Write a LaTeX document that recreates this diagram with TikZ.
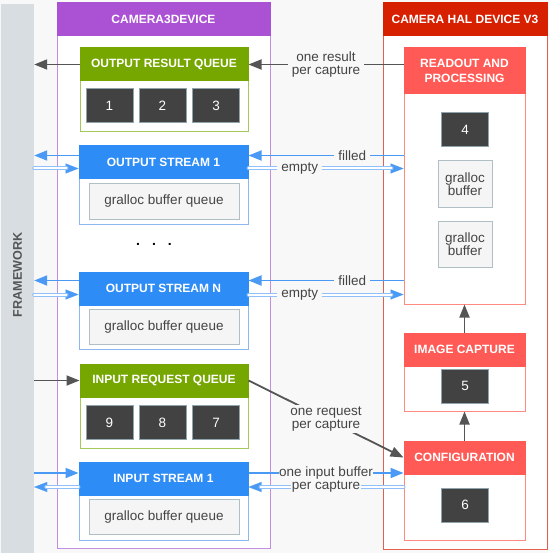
\documentclass[tikz,border=0pt]{standalone}
\usepackage{fontspec}
\setmainfont{Liberation Sans}
\usetikzlibrary{arrows.meta}
\definecolor{bgc}{RGB}{248,248,248}
\definecolor{fwc}{RGB}{215,221,224}
\definecolor{purh}{RGB}{171,82,212}
\definecolor{purl}{RGB}{196,142,224}
\definecolor{halh}{RGB}{214,32,0}
\definecolor{hall}{RGB}{226,96,78}
\definecolor{redh}{RGB}{255,90,85}
\definecolor{redl}{RGB}{255,138,128}
\definecolor{grnh}{RGB}{118,167,0}
\definecolor{grnl}{RGB}{165,200,90}
\definecolor{bluh}{RGB}{45,140,245}
\definecolor{blul}{RGB}{140,184,239}
\definecolor{bluarr}{RGB}{74,154,245}
\definecolor{bludbl}{RGB}{143,192,249}
\definecolor{itemc}{RGB}{66,66,66}
\definecolor{itemb}{RGB}{144,164,174}
\definecolor{galc}{RGB}{245,245,245}
\definecolor{galb}{RGB}{176,190,197}
\definecolor{arrc}{RGB}{85,85,85}
\definecolor{txtc}{RGB}{68,68,68}
\newcommand\hfont{\bfseries\fontsize{12}{15}\selectfont}
\newcommand\nfont{\fontsize{13.5}{13.5}\selectfont}
\begin{document}
\begin{tikzpicture}[x=1pt,y=-1pt,
	box/.style={draw,fill=white,line width=1pt,inner sep=0pt},
	head/.style={draw=#1,fill=#1,line width=1pt,text=white,inner sep=0pt,font=\hfont,align=center},
	item/.style={draw=itemb,fill=itemc,text=white,line width=1pt,minimum width=47pt,minimum height=34pt,inner sep=0pt,font=\nfont},
	gal/.style={draw=galb,fill=galc,text=txtc,line width=1pt,inner sep=0pt,font=\nfont,align=center},
	lbl/.style={fill=bgc,text=txtc,inner xsep=4pt,inner ysep=1pt,font=\nfont,align=center},
	darr/.style={draw=arrc,line width=1.8pt,-{Triangle[length=13pt,width=10pt]}},
	barr/.style={draw=bluarr,line width=1.8pt,-{Triangle[length=13pt,width=10pt]}},
	dbarr/.style={preaction={draw=bluarr,line width=0.1pt,shorten >=0pt,-{Triangle[length=13pt,width=10pt]}},draw=bludbl,double=white,double distance=2pt,line width=1pt,line cap=round,shorten >=12pt}]
			\fill[bgc] (0,0) rectangle (549,553);
			\useasboundingbox (0,0) rectangle (549,553);
			\node[fill=fwc,minimum width=33pt,minimum height=549pt,inner sep=0pt](fw) at (17.5,278.5){};
			\node[rotate=90,text=arrc,font=\bfseries\fontsize{12.6}{14}\selectfont](fwtext) at (17.5,275){FRAMEWORK};
			\node[box,draw=purl,minimum width=213pt,minimum height=545pt](c3d) at (163.5,275.5){};
			\node[head=purh,minimum width=213pt,minimum height=33pt](c3dhead) at (163.5,19.5){CAMERA3DEVICE};
			\node[box,draw=hall,minimum width=164pt,minimum height=546pt](hal) at (465,276){};
			\node[head=halh,minimum width=164pt,minimum height=33pt](halhead) at (465,19.5){CAMERA HAL DEVICE V3};
			\node[box,draw=grnl,minimum width=168pt,minimum height=84pt](orq) at (164,90){};
			\node[head=grnh,minimum width=168pt,minimum height=33pt](orqhead) at (164,64.5){OUTPUT RESULT QUEUE};
			\node[item](q1) at (109.5,106){1};
			\node[item](q2) at (162.5,106){2};
			\node[item](q3) at (216,106){3};
			\node[box,draw=blul,minimum width=169pt,minimum height=78pt](os1) at (163.5,185){};
			\node[head=bluh,minimum width=169pt,minimum height=33pt](os1head) at (163.5,162.5){OUTPUT STREAM 1};
			\node[gal,minimum width=150pt,minimum height=35pt](os1q) at (164,201.5){gralloc buffer queue};
			\node[font=\bfseries\fontsize{14}{14}\selectfont,text=black](dots) at (154,244){.\hspace{12pt}.\hspace{12pt}.};
			\node[box,draw=blul,minimum width=169pt,minimum height=77pt](osn) at (163.5,310.5){};
			\node[head=bluh,minimum width=169pt,minimum height=33pt](osnhead) at (163.5,288.5){OUTPUT STREAM N};
			\node[gal,minimum width=150pt,minimum height=35pt](osnq) at (164,327){gralloc buffer queue};
			\node[box,draw=grnl,minimum width=168pt,minimum height=84pt](irq) at (164,406){};
			\node[head=grnh,minimum width=168pt,minimum height=33pt](irqhead) at (164,380.5){INPUT REQUEST QUEUE};
			\node[item](q9) at (109.5,422.5){9};
			\node[item](q8) at (162.5,422.5){8};
			\node[item](q7) at (216,422.5){7};
			\node[box,draw=blul,minimum width=169pt,minimum height=78pt](is1) at (163.5,501){};
			\node[head=bluh,minimum width=169pt,minimum height=33pt](is1head) at (163.5,478.5){INPUT STREAM 1};
			\node[gal,minimum width=150pt,minimum height=35pt](is1q) at (164,517){gralloc buffer queue};
			\node[box,draw=redl,minimum width=121pt,minimum height=256pt](ro) at (464.5,176){};
			\node[head=redh,minimum width=121pt,minimum height=46pt](rohead) at (464.5,71){READOUT AND\\PROCESSING};
			\node[item](q4) at (465,130){4};
			\node[gal,minimum width=54pt,minimum height=46pt](buf1) at (465,184){gralloc\\buffer};
			\node[gal,minimum width=54pt,minimum height=46pt](buf2) at (465,244){gralloc\\buffer};
			\node[box,draw=redl,minimum width=121pt,minimum height=78pt](ic) at (464.5,372){};
			\node[head=redh,minimum width=121pt,minimum height=33pt](ichead) at (464.5,349.5){IMAGE CAPTURE};
			\node[item](q5) at (465,386){5};
			\node[box,draw=redl,minimum width=121pt,minimum height=99pt](cf) at (464.5,490.5){};
			\node[head=redh,minimum width=121pt,minimum height=33pt](cfhead) at (464.5,457.5){CONFIGURATION};
			\node[item](q6) at (465,505){6};
			\coordinate (f1) at ([yshift=7pt]os1head.east);
			\coordinate (e1) at ([yshift=-6pt]os1head.east);
			\coordinate (fn) at ([yshift=8pt]osnhead.east);
			\coordinate (en) at ([yshift=-6pt]osnhead.east);
			\coordinate (i1) at ([yshift=5.5pt]is1head.east);
			\coordinate (i2) at ([yshift=-8.5pt]is1head.east);
			\draw[darr] (orqhead.west) -- (orqhead.west -| fw.east);
			\draw[darr] (orqhead.east -| rohead.west) -- node[lbl]{one result\\per capture} (orqhead.east);
			\draw[barr] (f1 -| ro.west) -- node[lbl,pos=0.33]{filled} (f1);
			\draw[barr] (f1 -| os1head.west) -- (f1 -| fw.east);
			\draw[dbarr] (e1 -| fw.east) -- (e1 -| os1head.west);
			\draw[dbarr] (e1) -- node[lbl,pos=0.33]{empty} (e1 -| ro.west);
			\draw[barr] (fn -| ro.west) -- node[lbl,pos=0.33]{filled} (fn);
			\draw[barr] (fn -| osnhead.west) -- (fn -| fw.east);
			\draw[dbarr] (en -| fw.east) -- (en -| osnhead.west);
			\draw[dbarr] (en) -- node[lbl,pos=0.33]{empty} (en -| ro.west);
			\draw[darr] (irqhead.west -| fw.east) -- (irqhead.west);
			\draw[darr] (irqhead.east) -- node[lbl]{one request\\per capture} (cfhead.west);
			\draw[barr] (i1 -| fw.east) -- (i1 -| is1head.west);
			\draw[dbarr] (i2 -| is1head.west) -- (i2 -| fw.east);
			\draw[barr] (i1) -- node[lbl,inner xsep=0.5pt]{one input buffer} (i1 -| cf.west);
			\draw[dbarr] (i2 -| cf.west) -- node[lbl,inner xsep=0.5pt]{per capture} (i2);
			\draw[darr] (cfhead.north) -- (ic.south);
			\draw[darr] (ichead.north) -- (ro.south);
		\end{tikzpicture}
\end{document}
